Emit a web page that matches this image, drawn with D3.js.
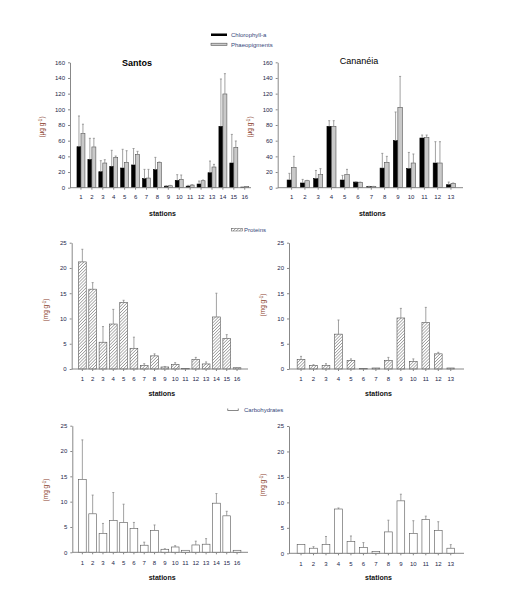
<!DOCTYPE html>
<html><head><meta charset="utf-8">
<script src="https://cdn.jsdelivr.net/npm/d3@7"></script>
<style>body{margin:0;background:#fff}svg{display:block}text{font-family:"Liberation Sans",Arial,sans-serif}</style>
</head><body><svg id="c" width="509" height="600"></svg>
<script>
// ---- data ----
const santosStations = ["1","2","3","4","5","6","7","8","9","10","11","12","13","14","15","16"];
const cananeiaStations = ["1","2","3","4","5","6","7","8","9","10","11","12","13"];
const pigTicks = [0,20,40,60,80,100,120,140,160];
const orgTicks = [0,5,10,15,20,25];

const santosChl    = [52.3,36,20.4,27.2,25.1,29,11.5,23,2,9.4,2,4.7,19.1,78.3,31.5,0.8];
const santosChlSd  = [39.2,27,14.1,20.5,23.9,21,11.9,15.7,0.5,7.2,1,3.8,14.9,60.4,36.5,0];
const santosPha    = [69,52,31.5,38.7,32.3,42.5,12.3,32,2.5,10.6,3.4,8.9,26.4,119.6,51.5,1.7];
const santosPhaSd  = [12,11,4.2,1.7,14.9,3.9,11.1,0.8,0.5,5.6,0.4,0.9,3.4,25.9,8.1,0];

const cananeiaChl   = [9.8,6,11.5,78.3,9.8,7.2,1.3,25,60,24.3,63.4,31.5,3.8];
const cananeiaChlSd = [8.5,4.6,10.5,7.2,5.9,0.3,0.4,18.8,36.6,20.7,3.8,27.2,3.4];
const cananeiaPha   = [26,8.9,16.6,78.3,16.6,6.8,1.3,32.3,102.5,31.5,63.8,31.5,5.5];
const cananeiaPhaSd = [14,0.5,7.7,7.2,6.8,0.4,0.4,7.7,39.5,11.5,3.4,27.2,0.5];

const santosPro    = [21.2,15.8,5.3,8.9,13.2,4.1,0.7,2.6,0.4,0.9,0.07,1.9,1.0,10.3,6.05,0.25];
const santosProSd  = [2.5,1.3,3.1,2.9,0.4,2.2,0.35,0.4,0.1,0.35,0,0.4,0.4,4.7,0.75,0];
const cananeiaPro   = [1.9,0.7,0.7,6.9,1.7,0.07,0.2,1.7,10.1,1.5,9.2,3.0,0.2];
const cananeiaProSd = [0.6,0.15,0.35,2.8,0.3,0,0,0.6,1.9,0.5,3.0,0.3,0];

const santosCar    = [14.4,7.6,3.7,6.25,5.9,4.7,1.4,4.3,0.6,1.05,0.4,1.45,1.6,9.7,7.2,0.4];
const santosCarSd  = [7.8,3.7,2.0,5.55,3.6,1.2,0.6,1.1,0.1,0.25,0,0.75,1.1,1.9,0.9,0];
const cananeiaCar   = [1.7,1.0,1.7,8.7,2.3,1.1,0.33,4.2,10.3,3.9,6.6,4.5,1.0];
const cananeiaCarSd = [0,0.3,1.6,0.2,1.1,1.0,0,2.3,1.3,2.5,0.7,1.7,0.7];

// ---- drawing ----
const svg = d3.select("#c");
const defs = svg.append("defs");
const pat = defs.append("pattern").attr("id","hatch").attr("patternUnits","userSpaceOnUse")
  .attr("width",2.2).attr("height",2.2).attr("patternTransform","rotate(45)");
pat.append("rect").attr("width",2.2).attr("height",2.2).attr("fill","#fff");
pat.append("line").attr("x1",0).attr("y1",0).attr("x2",0).attr("y2",2.2).attr("stroke","#444").attr("stroke-width",0.8);

const tickColor = "#23264a", axisColor = "#888", ylabColor = "#8b3f2e", legColor = "#34467a";

function panel(o){
  const g = svg.append("g");
  const y = d3.scaleLinear().domain([0, o.max]).range([o.y0, o.y1]);
  const x = d3.scaleBand().domain(o.cats).range(o.band).paddingInner(o.pad).paddingOuter(o.pad/2);
  const xi = d3.scaleBand().domain(d3.range(o.series.length)).range([0, x.bandwidth()]);
  // bars
  o.series.forEach((s, si) => {
    const data = o.cats.map((c, i) => ({c, v: s.values[i], e: s.sd[i]}));
    g.append("g").selectAll("rect").data(data).join("rect")
      .attr("x", d => x(d.c) + xi(si)).attr("width", xi.bandwidth())
      .attr("y", d => y(d.v)).attr("height", d => o.y0 - y(d.v))
      .attr("fill", s.fill).attr("stroke", s.stroke).attr("stroke-width", 0.6);
    const eb = g.append("g").attr("stroke", "#8a8a8a").attr("stroke-width", 0.8);
    const ed = data.filter(d => d.e > 0);
    eb.selectAll("line.v").data(ed).join("line").attr("class","v")
      .attr("x1", d => x(d.c) + xi(si) + xi.bandwidth()/2).attr("x2", d => x(d.c) + xi(si) + xi.bandwidth()/2)
      .attr("y1", d => y(d.v)).attr("y2", d => y(d.v + d.e));
    eb.selectAll("line.h").data(ed).join("line").attr("class","h")
      .attr("x1", d => x(d.c) + xi(si) + xi.bandwidth()/2 - 1).attr("x2", d => x(d.c) + xi(si) + xi.bandwidth()/2 + 1)
      .attr("y1", d => y(d.v + d.e)).attr("y2", d => y(d.v + d.e));
  });
  // y axis
  const ya = g.append("g").attr("transform", `translate(${o.ax0},0)`)
    .call(d3.axisLeft(y).tickValues(o.ticks).tickSize(2).tickPadding(3).tickSizeOuter(0));
  ya.select(".domain").attr("stroke", axisColor);
  ya.selectAll(".tick line").attr("stroke", axisColor);
  ya.selectAll("text").attr("fill", tickColor).style("font-size","6px");
  // x axis
  const xa = g.append("g").attr("transform", `translate(0,${o.y0})`)
    .call(d3.axisBottom(x).tickSize(2).tickPadding(o.xpad));
  xa.select(".domain").remove();
  xa.selectAll(".tick line").attr("stroke", axisColor);
  xa.selectAll("text").attr("fill", tickColor).style("font-size","6px");
  g.append("line").attr("x1", o.ax0).attr("x2", o.ax1).attr("y1", o.y0).attr("y2", o.y0)
    .attr("stroke", axisColor).attr("stroke-width", 1);
  // stations
  g.append("text").attr("x", (o.ax0 + o.ax1)/2 + 2).attr("y", o.sy).attr("text-anchor","middle")
    .style("font-size","7px").style("font-weight","bold").attr("fill","#111").text("stations");
  // y label
  const yl = g.append("text").attr("transform", `translate(${o.ylx},${o.yly}) rotate(-90)`)
    .attr("text-anchor","middle").attr("fill", ylabColor).style("font-size","6.5px");
  yl.append("tspan").text(o.unit + " g");
  yl.append("tspan").attr("dy", -2.5).style("font-size","4.5px").text("-1");
  yl.append("tspan").attr("dy", 2.5).text(")");
  if (o.title) {
    g.append("text").attr("x", o.title.x).attr("y", o.title.y).attr("text-anchor","middle")
      .style("font-size","9px").style("font-weight", o.title.bold ? "bold" : "normal")
      .attr("fill","#000").text(o.title.t);
  }
}

const black = {fill:"#000", stroke:"#000"};
const grey = {fill:"#c9c9c9", stroke:"#555"};

panel({cats: santosStations, max:160, ticks:pigTicks, y0:187.7, y1:62.3, band:[75.5,250.2], pad:0.27,
  ax0:70, ax1:251, xpad:5.5, sy:215.5, ylx:44, yly:127, unit:"(µg",
  title:{t:"Santos", x:137, y:66, bold:true},
  series:[{values:santosChl, sd:santosChlSd, ...black},{values:santosPha, sd:santosPhaSd, ...grey}]});
panel({cats: cananeiaStations, max:160, ticks:pigTicks, y0:187.7, y1:62.3, band:[285,457.6], pad:0.32,
  ax0:277.7, ax1:463, xpad:5.5, sy:215.5, ylx:252, yly:127, unit:"(µg",
  title:{t:"Cananéia", x:359, y:64, bold:false},
  series:[{values:cananeiaChl, sd:cananeiaChlSd, ...black},{values:cananeiaPha, sd:cananeiaPhaSd, ...grey}]});

const hatch = {fill:"url(#hatch)", stroke:"#555"};
const white = {fill:"#fff", stroke:"#555"};
panel({cats: santosStations, max:25, ticks:orgTicks, y0:369, y1:242.7, band:[77.2,242.2], pad:0.25,
  ax0:71.7, ax1:248, xpad:6.2, sy:395.5, ylx:48, yly:310, unit:"(mg",
  series:[{values:santosPro, sd:santosProSd, ...hatch}]});
panel({cats: cananeiaStations, max:25, ticks:orgTicks, y0:369, y1:242.7, band:[294.8,457], pad:0.38,
  ax0:289, ax1:464, xpad:6.2, sy:395.5, ylx:265, yly:305, unit:"(mg",
  series:[{values:cananeiaPro, sd:cananeiaProSd, ...hatch}]});
panel({cats: santosStations, max:25, ticks:orgTicks, y0:552.3, y1:425.7, band:[77.2,242.2], pad:0.25,
  ax0:72.3, ax1:248, xpad:6, sy:579.5, ylx:48, yly:490, unit:"(mg",
  series:[{values:santosCar, sd:santosCarSd, ...white}]});
panel({cats: cananeiaStations, max:25, ticks:orgTicks, y0:553.3, y1:426, band:[294.8,457], pad:0.38,
  ax0:289, ax1:464, xpad:6, sy:579.5, ylx:265, yly:485, unit:"(mg",
  series:[{values:cananeiaCar, sd:cananeiaCarSd, ...white}]});

// ---- legends ----
const leg = svg.append("g").style("font-size","6px");
leg.append("rect").attr("x",211).attr("y",33.5).attr("width",16).attr("height",2.5).attr("fill","#000");
leg.append("text").attr("x",231).attr("y",37).attr("fill",legColor).text("Chlorophyll-a");
leg.append("rect").attr("x",211).attr("y",43.2).attr("width",16).attr("height",2.2).attr("fill","#c9c9c9").attr("stroke","#555").attr("stroke-width",0.6);
leg.append("text").attr("x",231).attr("y",46.5).attr("fill",legColor).text("Phaeopigments");
leg.append("rect").attr("x",231.7).attr("y",228.4).attr("width",10.6).attr("height",2.6).attr("fill","url(#hatch)").attr("stroke","#555").attr("stroke-width",0.5);
leg.append("text").attr("x",244).attr("y",232).attr("fill",legColor).text("Proteins");
leg.append("path").attr("d","M227.7,408.5V410.5M227.7,410.5H238.3M238.3,408.5V410.5").attr("stroke","#555").attr("stroke-width",0.7).attr("fill","none");
leg.append("text").attr("x",244).attr("y",412).attr("fill",legColor).text("Carbohydrates");
</script></body></html>
